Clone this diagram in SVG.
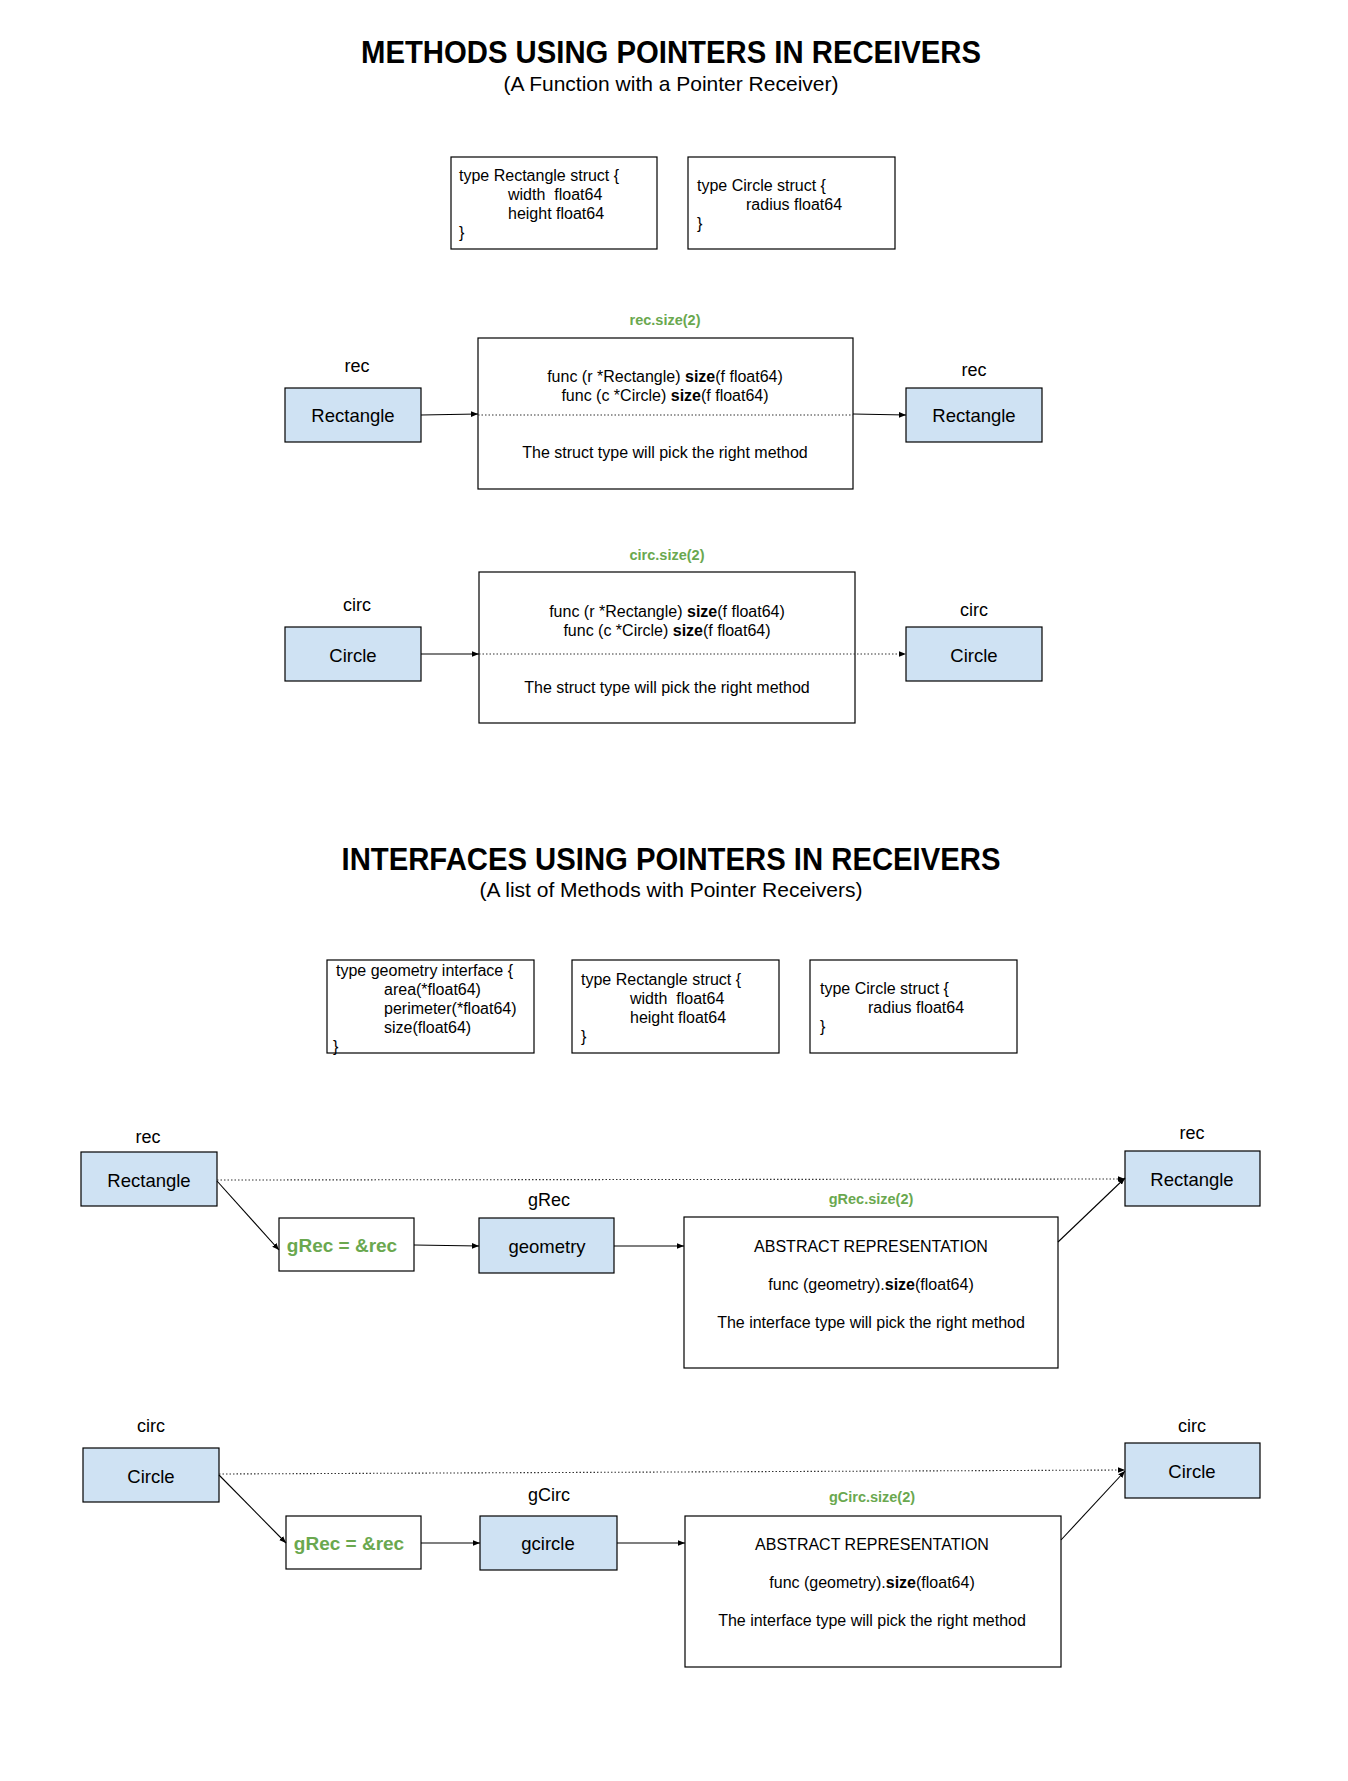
<svg xmlns="http://www.w3.org/2000/svg" width="1348" height="1781" viewBox="0 0 1348 1781">
<defs>
<marker id="ah" viewBox="0 0 10 10" refX="10" refY="5" markerWidth="7" markerHeight="7" markerUnits="userSpaceOnUse" orient="auto"><path d="M0,1 L10,5 L0,9 z" fill="#000"/></marker>
<style>
text{font-family:"Liberation Sans",Arial,sans-serif;fill:#000;dominant-baseline:central}
.title{font-size:31px;font-weight:bold;text-anchor:middle}
.sub{font-size:21px;text-anchor:middle}
.code{font-size:16px;white-space:pre}
.box{fill:#fff;stroke:#000;stroke-width:1.2}
.node{fill:#cfe2f3;stroke:#000;stroke-width:1.2}
.nt{font-size:18.5px;text-anchor:middle}
.lbl{font-size:18px;text-anchor:middle}
.fn{font-size:16px;text-anchor:middle}
.grn{font-size:14.5px;font-weight:bold;fill:#6aa84f;text-anchor:middle}
.gb{font-size:19px;font-weight:bold;fill:#6aa84f;text-anchor:middle}
.b{font-weight:bold}
.solid{stroke:#000;stroke-width:1.1;fill:none}
.dot{stroke:#333;stroke-width:1.1;fill:none;stroke-dasharray:1.5 2}
</style>
</defs>
<rect width="1348" height="1781" fill="#fff"/>

<text class="title" x="671" y="52" textLength="620" lengthAdjust="spacingAndGlyphs">METHODS USING POINTERS IN RECEIVERS</text>
<text class="sub" x="671" y="83">(A Function with a Pointer Receiver)</text>

<g id="type-rect-1">
<rect class="box" x="451" y="157" width="206" height="92"/>
<text class="code" x="459" y="175">type Rectangle struct {</text>
<text class="code" x="508" y="194">width  float64</text>
<text class="code" x="508" y="213">height float64</text>
<text class="code" x="459" y="232">}</text>
</g>
<g id="type-circ-1">
<rect class="box" x="688" y="157" width="207" height="92"/>
<text class="code" x="697" y="185">type Circle struct {</text>
<text class="code" x="746" y="204">radius float64</text>
<text class="code" x="697" y="223">}</text>
</g>

<g id="row1">
<g id="rec-l1"><text class="lbl" x="357" y="366">rec</text>
<rect class="node" x="285" y="388" width="136" height="54"/>
<text class="nt" x="353" y="415">Rectangle</text></g>
<g id="method-box-1"><text class="grn" x="665" y="320">rec.size(2)</text>
<rect class="box" x="478" y="338" width="375" height="151"/>
<text class="fn" x="665" y="376">func (r *Rectangle) <tspan class="b">size</tspan>(f float64)</text>
<text class="fn" x="665" y="395">func (c *Circle) <tspan class="b">size</tspan>(f float64)</text>
<text class="fn" x="665" y="452">The struct type will pick the right method</text></g>
<g id="rec-r1"><text class="lbl" x="974" y="370">rec</text>
<rect class="node" x="906" y="388" width="136" height="54"/>
<text class="nt" x="974" y="415">Rectangle</text></g>
</g>

<g id="row2">
<g id="circ-l1"><text class="lbl" x="357" y="605">circ</text>
<rect class="node" x="285" y="627" width="136" height="54"/>
<text class="nt" x="353" y="655">Circle</text></g>
<g id="method-box-2"><text class="grn" x="667" y="555">circ.size(2)</text>
<rect class="box" x="479" y="572" width="376" height="151"/>
<text class="fn" x="667" y="611">func (r *Rectangle) <tspan class="b">size</tspan>(f float64)</text>
<text class="fn" x="667" y="630">func (c *Circle) <tspan class="b">size</tspan>(f float64)</text>
<text class="fn" x="667" y="687">The struct type will pick the right method</text></g>
<g id="circ-r1"><text class="lbl" x="974" y="610">circ</text>
<rect class="node" x="906" y="627" width="136" height="54"/>
<text class="nt" x="974" y="655">Circle</text></g>
</g>

<text class="title" x="671" y="859" textLength="659" lengthAdjust="spacingAndGlyphs">INTERFACES USING POINTERS IN RECEIVERS</text>
<text class="sub" x="671" y="889">(A list of Methods with Pointer Receivers)</text>

<g id="type-geom">
<rect class="box" x="327" y="960" width="207" height="93"/>
<text class="code" x="336" y="970">type geometry interface {</text>
<text class="code" x="384" y="989">area(*float64)</text>
<text class="code" x="384" y="1008">perimeter(*float64)</text>
<text class="code" x="384" y="1027">size(float64)</text>
<text class="code" x="333" y="1046">}</text>
</g>
<g id="type-rect-2">
<rect class="box" x="572" y="960" width="207" height="93"/>
<text class="code" x="581" y="979">type Rectangle struct {</text>
<text class="code" x="630" y="998">width  float64</text>
<text class="code" x="630" y="1017">height float64</text>
<text class="code" x="581" y="1036">}</text>
</g>
<g id="type-circ-2">
<rect class="box" x="810" y="960" width="207" height="93"/>
<text class="code" x="820" y="988">type Circle struct {</text>
<text class="code" x="868" y="1007">radius float64</text>
<text class="code" x="820" y="1026">}</text>
</g>

<g id="row3">
<g id="rec-l2"><text class="lbl" x="148" y="1137">rec</text>
<rect class="node" x="81" y="1152" width="136" height="54"/>
<text class="nt" x="149" y="1180">Rectangle</text></g>
<g id="assign-1"><rect class="box" x="279" y="1218" width="135" height="53"/>
<text class="gb" x="342" y="1245">gRec = &amp;rec</text></g>
<g id="geometry"><text class="lbl" x="549" y="1200">gRec</text>
<rect class="node" x="479" y="1218" width="135" height="55"/>
<text class="nt" x="547" y="1246">geometry</text></g>
<g id="abstract-1"><text class="grn" x="871" y="1199">gRec.size(2)</text>
<rect class="box" x="684" y="1217" width="374" height="151"/>
<text class="fn" x="871" y="1246">ABSTRACT REPRESENTATION</text>
<text class="fn" x="871" y="1284">func (geometry).<tspan class="b">size</tspan>(float64)</text>
<text class="fn" x="871" y="1322">The interface type will pick the right method</text></g>
<g id="rec-r2"><text class="lbl" x="1192" y="1133">rec</text>
<rect class="node" x="1125" y="1151" width="135" height="55"/>
<text class="nt" x="1192" y="1179">Rectangle</text></g>
</g>

<g id="row4">
<g id="circ-l2"><text class="lbl" x="151" y="1426">circ</text>
<rect class="node" x="83" y="1448" width="136" height="54"/>
<text class="nt" x="151" y="1476">Circle</text></g>
<g id="assign-2"><rect class="box" x="286" y="1516" width="135" height="53"/>
<text class="gb" x="349" y="1543">gRec = &amp;rec</text></g>
<g id="gcircle"><text class="lbl" x="549" y="1495">gCirc</text>
<rect class="node" x="480" y="1516" width="137" height="54"/>
<text class="nt" x="548" y="1543">gcircle</text></g>
<g id="abstract-2"><text class="grn" x="872" y="1497">gCirc.size(2)</text>
<rect class="box" x="685" y="1516" width="376" height="151"/>
<text class="fn" x="872" y="1544">ABSTRACT REPRESENTATION</text>
<text class="fn" x="872" y="1582">func (geometry).<tspan class="b">size</tspan>(float64)</text>
<text class="fn" x="872" y="1620">The interface type will pick the right method</text></g>
<g id="circ-r2"><text class="lbl" x="1192" y="1426">circ</text>
<rect class="node" x="1125" y="1443" width="135" height="55"/>
<text class="nt" x="1192" y="1471">Circle</text></g>
</g>

<g id="connectors">
<path class="solid" d="M421,415 L478,414" marker-end="url(#ah)"/>
<path class="dot" d="M478,415 L853,415"/>
<path class="solid" d="M853,414 L906,415" marker-end="url(#ah)"/>

<path class="solid" d="M421,654 L479,654" marker-end="url(#ah)"/>
<path class="dot" d="M479,654 L906,654" marker-end="url(#ah)"/>

<path class="dot" d="M217,1180 L1125,1179" marker-end="url(#ah)"/>
<path class="solid" d="M217,1181 L279,1250" marker-end="url(#ah)"/>
<path class="solid" d="M414,1245 L479,1246" marker-end="url(#ah)"/>
<path class="solid" d="M614,1246 L684,1246" marker-end="url(#ah)"/>
<path class="solid" d="M1058,1242 L1125,1178" marker-end="url(#ah)"/>

<path class="dot" d="M219,1474 L1125,1470" marker-end="url(#ah)"/>
<path class="solid" d="M219,1475 L286,1543" marker-end="url(#ah)"/>
<path class="solid" d="M421,1543 L480,1543" marker-end="url(#ah)"/>
<path class="solid" d="M617,1543 L685,1543" marker-end="url(#ah)"/>
<path class="solid" d="M1061,1540 L1125,1471" marker-end="url(#ah)"/>
</g>
</svg>
